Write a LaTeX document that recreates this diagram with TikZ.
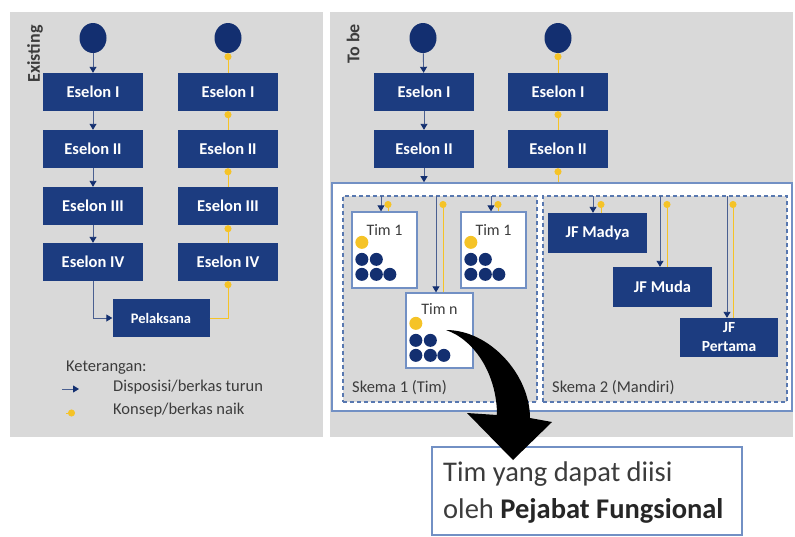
\documentclass[tikz,border=0pt]{standalone}
\usepackage{fontspec}
\setmainfont{Carlito}
\usetikzlibrary{arrows.meta,shapes.geometric,calc}
\definecolor{navy}{HTML}{1C3C80}
\definecolor{dotnavy}{HTML}{132F70}
\definecolor{linenavy}{HTML}{4A5F90}
\definecolor{gold}{HTML}{F5C327}
\definecolor{panelgray}{HTML}{D9D9D9}
\definecolor{framebl}{HTML}{7290C4}
\definecolor{dashbl}{HTML}{5878B0}
\definecolor{txtgray}{HTML}{3C3C3C}
\tikzset{
  esbox/.style={fill=navy,text=white,minimum width=100pt,minimum height=38pt,inner sep=0pt,
    font=\fontsize{16.5}{19}\selectfont\bfseries,align=center},
  startnode/.style={ellipse,fill=dotnavy,minimum width=27pt,minimum height=30pt,inner sep=0pt},
  navarrow/.style={draw=linenavy,line width=0.9pt,-{Triangle[length=6pt,width=7pt,fill=dotnavy,color=dotnavy]}},
  yelarrow/.style={draw=gold,line width=0.9pt,-{Circle[length=7pt,fill=gold,color=gold]}},
  legtext/.style={anchor=west,text=txtgray,font=\fontsize{16.5}{18}\selectfont,inner sep=0pt},
  panellabel/.style={rotate=90,text=txtgray,font=\fontsize{18}{20}\selectfont\bfseries,inner sep=0pt},
  timbox/.style={draw=framebl,line width=1.3pt,fill=white,minimum width=65pt,minimum height=76pt,inner sep=0pt},
  timtext/.style={text=txtgray,font=\fontsize{16}{18}\selectfont,inner sep=0pt},
  dotn/.style={circle,fill=dotnavy,minimum size=13pt,inner sep=0pt},
  doty/.style={circle,fill=gold,minimum size=13pt,inner sep=0pt},
  skema/.style={draw=dashbl,line width=1.4pt,dash pattern=on 4pt off 3pt,fill=panelgray,inner sep=0pt},
  skemalabel/.style={anchor=west,text=txtgray,font=\fontsize{16.5}{18}\selectfont,inner sep=0pt},
}
\newcommand{\teamdots}[1]{%
  \node[doty] at ($(#1.north west)+(10.5,31)$) {};
  \node[dotn] at ($(#1.north west)+(10.5,48)$) {};
  \node[dotn] at ($(#1.north west)+(25,48)$) {};
  \node[dotn] at ($(#1.north west)+(10.5,63)$) {};
  \node[dotn] at ($(#1.north west)+(25,63)$) {};
  \node[dotn] at ($(#1.north west)+(38.5,63)$) {};
}
\begin{document}
\begin{tikzpicture}[x=1pt,y=-1pt]
\useasboundingbox (0,0) rectangle (795,536);
% panels
\fill[panelgray] (10,12) rectangle (323,437);
\fill[panelgray] (330,12) rectangle (793,437);
\node[panellabel] (lblex) at (35,54) {Existing};
\node[panellabel] (lbltb) at (353,44) {To be};

% ---------- Existing ----------
\node[startnode] (c1) at (93,38) {};
\node[esbox] (e1a) at (93,92) {Eselon I};
\node[esbox] (e2a) at (93,149) {Eselon II};
\node[esbox] (e3a) at (93,206) {Eselon III};
\node[esbox] (e4a) at (93,262) {Eselon IV};
\node[startnode] (c2) at (228,38) {};
\node[esbox] (e1b) at (228,92) {Eselon I};
\node[esbox] (e2b) at (228,149) {Eselon II};
\node[esbox] (e3b) at (228,206) {Eselon III};
\node[esbox] (e4b) at (228,262) {Eselon IV};
\node[esbox,minimum width=97pt,font=\fontsize{14.5}{16}\selectfont\bfseries] (pel) at (161,318) {Pelaksana};

\draw[navarrow] (c1) -- (e1a);
\draw[navarrow] (e1a) -- (e2a);
\draw[navarrow] (e2a) -- (e3a);
\draw[navarrow] (e3a) -- (e4a);
\draw[navarrow] (e4a.south) |- (pel.west);
\draw[yelarrow] (e1b) -- (c2);
\draw[yelarrow] (e2b) -- (e1b);
\draw[yelarrow] (e3b) -- (e2b);
\draw[yelarrow] (e4b) -- (e3b);
\draw[yelarrow] (pel.east) -| (e4b.south);

% legend
\node[legtext] (ket) at (66,368) {Keterangan:};
\coordinate (la1) at (62,389);
\coordinate (la2) at (79,389);
\draw[navarrow] (la1) -- (la2);
\coordinate (lb1) at (66,413);
\coordinate (lb2) at (75,413);
\draw[yelarrow] (lb1) -- (lb2);
\node[legtext] (leg1) at (113,387) {Disposisi/berkas turun};
\node[legtext] (leg2) at (113,410) {Konsep/berkas naik};

% ---------- To be ----------
\node[startnode] (c3) at (423,38) {};
\node[esbox] (e1c) at (424,92) {Eselon I};
\node[esbox] (e2c) at (424,149) {Eselon II};
\node[startnode] (c4) at (558,38) {};
\node[esbox] (e1d) at (558,92) {Eselon I};
\node[esbox] (e2d) at (558,149) {Eselon II};

\node[draw=framebl,line width=1.6pt,fill=white,minimum width=460pt,minimum height=228pt,inner sep=0pt] (frame) at (562,297) {};
\node[skema,minimum width=194pt,minimum height=206pt] (sk1) at (440,299) {};
\node[skema,minimum width=244pt,minimum height=206pt] (sk2) at (665,299) {};

\draw[navarrow] (c3) -- (e1c);
\draw[navarrow] (e1c) -- (e2c);
\draw[navarrow] (e2c) -- (e2c |- frame.north);
\draw[yelarrow] (e1d) -- (c4);
\draw[yelarrow] (e2d) -- (e1d);
\draw[yelarrow] (frame.north -| e2d) -- (e2d);

% Skema 1
\node[timbox] (tim1a) at (384.5,250) {};
\node[timbox] (tim1b) at (493.5,250) {};
\node[timbox,minimum width=67pt,minimum height=75pt] (timn) at (439.5,330.5) {};
\node[timtext] (tt1a) at ($(tim1a.north)+(0,19)$) {Tim 1};
\node[timtext] (tt1b) at ($(tim1b.north)+(0,19)$) {Tim 1};
\node[timtext] (ttn) at ($(timn.north)+(0,17)$) {Tim n};
\teamdots{tim1a}
\teamdots{tim1b}
\teamdots{timn}

\coordinate (n1) at (381,196);
\coordinate (y1) at (388,201);
\coordinate (n2) at (436,196);
\coordinate (y2) at (443,201);
\coordinate (n3) at (491,196);
\coordinate (y3) at (498,201);
\draw[navarrow] (n1) -- (n1 |- tim1a.north);
\draw[yelarrow] (y1 |- tim1a.north) -- (y1);
\draw[navarrow] (n2) -- (n2 |- timn.north);
\draw[yelarrow] (y2 |- timn.north) -- (y2);
\draw[navarrow] (n3) -- (n3 |- tim1b.north);
\draw[yelarrow] (y3 |- tim1b.north) -- (y3);
\node[skemalabel] (sl1) at (352,388) {Skema 1 (Tim)};

% Skema 2
\node[esbox,minimum width=99pt,minimum height=40pt] (jfa) at (597.5,233) {JF Madya};
\node[esbox,minimum width=99pt,minimum height=40pt] (jfb) at (662.5,287) {JF Muda};
\node[esbox,minimum width=98pt,minimum height=39pt,font=\fontsize{15.5}{19}\selectfont\bfseries] (jfc) at (729,337.5) {JF\\Pertama};
\coordinate (n4) at (593,196);
\coordinate (y4) at (601,201);
\coordinate (n5) at (660,196);
\coordinate (y5) at (667,201);
\coordinate (n6) at (727,196);
\coordinate (y6) at (733,201);
\draw[navarrow] (n4) -- (n4 |- jfa.north);
\draw[yelarrow] (y4 |- jfa.north) -- (y4);
\draw[navarrow] (n5) -- (n5 |- jfb.north);
\draw[yelarrow] (y5 |- jfb.north) -- (y5);
\draw[navarrow] (n6) -- (n6 |- jfc.north);
\draw[yelarrow] (y6 |- jfc.north) -- (y6);
\node[skemalabel] (sl2) at (552,388) {Skema 2 (Mandiri)};

% bottom note
\node[draw=framebl,line width=1.3pt,fill=white,minimum width=310pt,minimum height=88pt,inner sep=0pt] (note) at (587,491) {};
\node[anchor=west,text=txtgray,font=\fontsize{28.5}{37}\selectfont,align=left,inner sep=0pt] (notetext) at (443,493)
  {Tim yang dapat diisi\\oleh \textbf{\color{black!85}Pejabat Fungsional}};

% big curved arrow
\fill[black] (446,330) .. controls (490,330) and (530,375) .. (530,418)
  -- (552,422) -- (513,460) -- (467,413) -- (497,415)
  .. controls (497,375) and (475,340) .. (446,330) -- cycle;
\end{tikzpicture}
\end{document}
